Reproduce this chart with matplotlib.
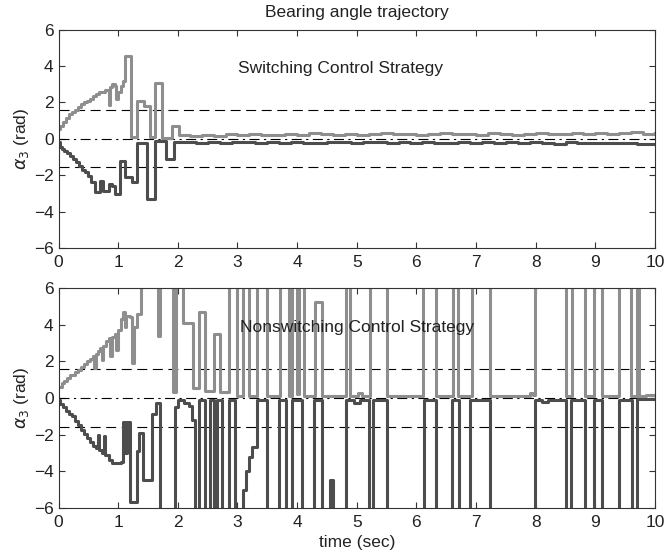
import matplotlib
matplotlib.use('Agg')
import numpy as np
import matplotlib.pyplot as plt

plt.rcParams['font.family'] = ['Liberation Sans', 'DejaVu Sans']

# Switching strategy - upper (light) and lower (dark) trajectories
sw_up_t = [0.0, 0.03, 0.08, 0.13, 0.18, 0.23, 0.28, 0.33, 0.38, 0.43, 0.48, 0.53, 0.58,
           0.63, 0.68, 0.73, 0.78, 0.84, 0.86, 0.89, 0.94, 0.97, 1.0, 1.04, 1.08, 1.11,
           1.22, 1.31, 1.43, 1.54, 1.61, 1.73, 1.9, 2.02,
           2.2, 2.4, 2.6, 2.8, 3.0, 3.2, 3.4, 3.6, 3.8, 4.0, 4.2, 4.4, 4.6, 4.8, 5.0,
           5.2, 5.4, 5.6, 5.8, 6.0, 6.2, 6.4, 6.6, 6.8, 7.0, 7.2, 7.4, 7.6, 7.8, 8.0,
           8.2, 8.4, 8.6, 8.8, 9.0, 9.2, 9.4, 9.6, 9.8, 10.0]
sw_up_v = [0.55, 0.7, 0.95, 1.15, 1.35, 1.5, 1.6, 1.75, 1.9, 2.0, 2.1, 2.2, 2.35,
           2.45, 2.55, 2.6, 2.7, 1.85, 2.85, 3.0, 2.9, 2.2, 2.6, 2.9, 3.2, 4.55,
           0.1, 2.1, 1.8, 0.1, 3.1, 0.05, 0.7, 0.2,
           0.15, 0.22, 0.18, 0.25, 0.2, 0.28, 0.22, 0.2, 0.26, 0.22, 0.3, 0.24, 0.2, 0.27, 0.22,
           0.25, 0.3, 0.24, 0.28, 0.22, 0.27, 0.32, 0.25, 0.28, 0.23, 0.3, 0.26, 0.22, 0.28, 0.3,
           0.25, 0.28, 0.33, 0.27, 0.3, 0.25, 0.32, 0.38, 0.28, 0.3]

sw_lo_t = [0.0, 0.03, 0.06, 0.1, 0.15, 0.2, 0.25, 0.3, 0.35, 0.4, 0.45, 0.5, 0.55,
           0.61, 0.69, 0.75, 0.84, 0.89, 0.95, 1.03, 1.12, 1.23, 1.32, 1.48, 1.62,
           1.81, 1.93,
           2.1, 2.3, 2.5, 2.7, 2.9, 3.1, 3.3, 3.5, 3.7, 3.9, 4.1, 4.3, 4.5, 4.7, 4.9,
           5.1, 5.3, 5.5, 5.7, 5.9, 6.1, 6.3, 6.5, 6.7, 6.9, 7.1, 7.3, 7.5, 7.7, 7.9,
           8.1, 8.3, 8.5, 8.7, 8.9, 9.1, 9.3, 9.5, 9.7, 9.9, 10.0]
sw_lo_v = [-0.15, -0.45, -0.55, -0.65, -0.8, -0.95, -1.1, -1.3, -1.5, -1.7, -1.85, -2.05, -2.4,
           -2.9, -2.3, -2.85, -2.5, -2.6, -3.05, -1.2, -2.1, -2.4, -0.25, -3.3, -0.1,
           -1.1, -0.2,
           -0.15, -0.22, -0.18, -0.25, -0.2, -0.17, -0.23, -0.19, -0.22, -0.16, -0.21, -0.25, -0.2,
           -0.18, -0.24, -0.2, -0.17, -0.22, -0.19, -0.23, -0.18, -0.21, -0.25, -0.2, -0.22, -0.18,
           -0.24, -0.2, -0.23, -0.19, -0.21, -0.26, -0.2, -0.23, -0.22, -0.25, -0.21, -0.24, -0.27,
           -0.28, -0.28]

# Nonswitching strategy (values beyond +/-6 leave the plotting window)
ns_up_t = [0.0, 0.05, 0.1, 0.15, 0.2, 0.27, 0.33, 0.38, 0.43, 0.47, 0.52, 0.57, 0.6,
           0.62, 0.66, 0.7, 0.73, 0.75, 0.8, 0.84, 0.87, 0.89, 0.94, 0.97, 1.0, 1.05,
           1.08, 1.11, 1.13, 1.2, 1.24, 1.27, 1.32, 1.38, 1.67, 1.7, 1.92, 1.97,
           2.09, 2.26, 2.35, 2.46, 2.6, 2.71, 2.85, 2.99, 3.09, 3.19, 3.32, 3.5,
           3.71, 3.86, 3.91, 4.0, 4.03, 4.11, 4.3, 4.42, 4.82, 4.89, 5.02, 5.08,
           5.22, 5.51, 6.11, 6.32, 6.61, 6.69, 6.93, 7.24, 7.9, 7.95, 7.99, 8.5,
           8.61, 8.83, 8.97, 9.11, 9.39, 9.6, 9.7, 9.73, 9.85, 10.0]
ns_up_v = [0.62, 0.8, 0.95, 1.1, 1.25, 1.4, 1.55, 1.7, 1.85, 2.0, 2.15, 2.3, 1.65,
           2.4, 2.55, 2.75, 2.1, 2.85, 3.1, 3.3, 2.3, 3.35, 3.5, 2.6, 3.7, 4.3,
           4.7, 3.9, 4.5, 4.4, 1.9, 3.9, 4.6, 6.6, 3.4, 6.6, 0.3, 6.6,
           4.1, 0.55, 4.7, 0.4, 3.5, 0.3, 6.6, 0.1, 6.6, 0.1, 6.6, 0.1,
           6.6, 0.1, 6.6, 0.2, 6.6, 0.1, 5.25, 0.1, 6.6, 0.12, 0.28, 0.12,
           6.6, 0.1, 6.6, 0.1, 6.6, 0.1, 6.6, 0.1, 0.25, 0.15, 6.6, 0.1,
           6.6, 0.1, 6.6, 0.1, 6.6, 0.1, 6.6, 0.1, 0.15, 0.15]

ns_lo_t = [0.0, 0.03, 0.08, 0.13, 0.18, 0.23, 0.28, 0.33, 0.38, 0.43, 0.48, 0.53, 0.58,
           0.62, 0.66, 0.68, 0.73, 0.76, 0.78, 0.84, 0.9, 1.05, 1.08, 1.11, 1.15, 1.19,
           1.31, 1.35, 1.42, 1.56, 1.64, 1.7, 1.95, 2.01, 2.1, 2.18, 2.23, 2.29, 2.35,
           2.46, 2.54, 2.6, 2.65, 2.74, 2.85, 2.96, 3.1, 3.15, 3.2, 3.25, 3.32, 3.5,
           3.7, 3.82, 3.91, 4.08, 4.29, 4.42, 4.55, 4.6, 4.82, 4.95, 5.05, 5.2, 5.27,
           5.51, 6.12, 6.32, 6.6, 6.71, 6.89, 7.23, 7.99, 8.1, 8.2, 8.5, 8.59, 8.83,
           8.97, 9.11, 9.39, 9.62, 9.7, 10.0]
ns_lo_v = [-0.1, -0.35, -0.5, -0.7, -0.85, -1.0, -1.25, -1.5, -1.75, -1.95, -2.2, -2.4, -2.6,
           -2.75, -2.0, -2.85, -3.0, -2.1, -3.1, -3.4, -3.55, -3.5, -1.3, -3.0, -1.3, -5.7,
           -2.9, -1.9, -4.5, -0.85, -0.3, -6.6, -0.47, -0.1, -0.3, -0.45, -1.2, -6.6, -0.1,
           -6.6, -0.1, -6.6, -0.1, -6.6, -0.1, -6.6, -5.0, -4.0, -3.2, -2.66, -0.1, -6.6,
           -0.1, -6.6, -0.1, -6.6, -0.1, -6.6, -4.5, -6.6, -0.1, -0.25, -0.1, -6.6, -0.1,
           -6.6, -0.1, -6.6, -0.1, -6.6, -0.1, -6.6, -0.1, -0.22, -0.1, -6.6, -0.1, -6.6,
           -0.1, -6.6, -0.1, -6.6, -0.05, -0.05]

bound = np.pi / 2
light = '#8e8e8e'
dark = '#4d4d4d'

fig = plt.figure(figsize=(6.65, 5.52), dpi=100)
ax1 = fig.add_axes([0.088, 0.551, 0.897, 0.395])
ax2 = fig.add_axes([0.088, 0.080, 0.897, 0.398])

panels = [(ax1, sw_up_t, sw_up_v, sw_lo_t, sw_lo_v, 'Switching Control Strategy', 4.72),
          (ax2, ns_up_t, ns_up_v, ns_lo_t, ns_lo_v, 'Nonswitching Control Strategy', 5.0)]

for ax, ut, uv, lt, lv, label, tx in panels:
    ax.axhline(bound, color='k', lw=0.8, dashes=(9, 5))
    ax.axhline(-bound, color='k', lw=0.8, dashes=(9, 5))
    ax.axhline(0, color='k', lw=0.8, dashes=(9, 4, 2, 4))
    ax.step(ut, uv, where='post', color=light, lw=2.2)
    ax.step(lt, lv, where='post', color=dark, lw=2.2)
    ax.set_xlim(0, 10)
    ax.set_ylim(-6, 6)
    ax.set_xticks(range(11))
    ax.set_yticks([-6, -4, -2, 0, 2, 4, 6])
    ax.set_yticklabels(['\u22126', '\u22124', '\u22122', '0', '2', '4', '6'])
    ax.tick_params(direction='in', top=True, right=True, length=4, labelsize=12.5,
                   color='#333333', labelcolor='#222222')
    ax.tick_params(axis='x', pad=5)
    for s in ax.spines.values():
        s.set_color('#333333')
        s.set_linewidth(0.8)
    ax.set_ylabel(r'$\alpha_3$ (rad)', fontsize=12.5, color='#222222', labelpad=2)
    ax.text(tx, 3.85, label, ha='center', va='center', fontsize=12.5, color='#222222')

ax1.set_title('Bearing angle trajectory', fontsize=12.5, color='#222222', pad=9)
ax2.set_xlabel('time (sec)', fontsize=12.5, color='#222222', labelpad=4)

fig.savefig('out.png', dpi=100)
